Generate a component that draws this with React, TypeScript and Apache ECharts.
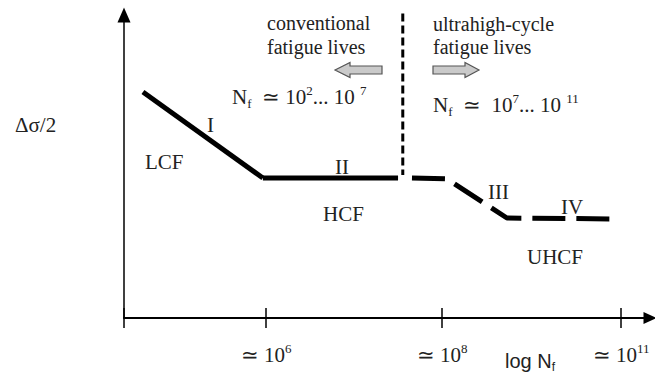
import React, { useEffect, useRef } from 'react';
import * as echarts from 'echarts';

// Schematic S-N curve (abstract units: x 0..100 along log N, y 0..100 along stress amplitude)
const stageI: number[][] = [[3.6, 74.6], [26.4, 46.2]];
const stageII: number[][] = [[26.4, 46.2], [52.1, 46.2]];
const boundaryLine: number[][] = [[53.0, 100.5], [53.0, 47.2]];
const stageIIIandIV: number[][] = [[54.75, 46.2], [61.4, 45.9], [72.8, 33.0], [92.8, 32.7]];

const tickPositions: number[] = [0, 27, 60.5, 94.5];
const labelPositions: number[] = [27, 60.5, 94.5];
const labelExponents: string[] = ['6', '8', '11'];

const SERIF = 'Liberation Serif';
const SANS = 'Liberation Sans';
const TXT = '#222';

const richStyles = {
  t: { fontFamily: SERIF, fontSize: 21, lineHeight: 26, fill: TXT, color: TXT, verticalAlign: 'middle' },
  sup: { fontFamily: SERIF, fontSize: 13, lineHeight: 13, fill: TXT, color: TXT, verticalAlign: 'top' },
  sub: { fontFamily: SERIF, fontSize: 13, lineHeight: 13, fill: TXT, color: TXT, verticalAlign: 'bottom' },
};

function label(text: string, x: number, y: number, size = 21) {
  return {
    type: 'text',
    x,
    y,
    style: { text, fontFamily: SERIF, fontSize: size, fill: TXT, verticalAlign: 'middle' },
  };
}

function richLabel(text: string, x: number, y: number) {
  return {
    type: 'text',
    x,
    y,
    style: { text, fontFamily: SERIF, rich: richStyles, verticalAlign: 'middle', fill: TXT },
  };
}

export default function App() {
  const ref = useRef<HTMLDivElement>(null);
  useEffect(() => {
    document.body.style.margin = '0';
    if (!ref.current) return;
    const chart = echarts.init(ref.current, undefined, { renderer: 'svg' });
    const lineSeries = (data: number[][], width: number, type: any) => ({
      type: 'line',
      data,
      symbol: 'none',
      clip: false,
      silent: true,
      xAxisIndex: 0,
      yAxisIndex: 0,
      lineStyle: { color: '#000', width, type },
    });
    chart.setOption({
      animation: false,
      backgroundColor: '#fff',
      grid: { left: 124, right: 5, top: 15, bottom: 67 },
      xAxis: [
        {
          type: 'value',
          min: 0,
          max: 100,
          position: 'bottom',
          splitLine: { show: false },
          axisLine: {
            show: true,
            onZero: false,
            symbol: ['none', 'triangle'],
            symbolSize: [12, 13],
            lineStyle: { color: '#000', width: 2 },
          },
          axisTick: { show: true, customValues: tickPositions, length: 10, lineStyle: { color: '#000', width: 1.5 } },
          axisLabel: {
            show: true,
            customValues: labelPositions,
            margin: 24,
            fontFamily: SERIF,
            formatter: (v: number) => {
              const i = labelPositions.indexOf(v);
              return '{t|≃ 10}{sup|' + (i >= 0 ? labelExponents[i] : '') + '}';
            },
            rich: richStyles,
          },
        },
        {
          type: 'value',
          min: 0,
          max: 100,
          position: 'bottom',
          offset: 0,
          splitLine: { show: false },
          axisLine: { show: false },
          axisTick: { show: true, inside: true, customValues: tickPositions, length: 10, lineStyle: { color: '#000', width: 1.5 } },
          axisLabel: { show: false },
        },
      ],
      yAxis: {
        type: 'value',
        min: 0,
        max: 100,
        splitLine: { show: false },
        axisTick: { show: false },
        axisLabel: { show: false },
        axisLine: {
          show: true,
          onZero: false,
          symbol: ['none', 'triangle'],
          symbolSize: [13, 15],
          lineStyle: { color: '#000', width: 1.5 },
        },
      },
      series: [
        lineSeries(stageI, 5, 'solid'),
        lineSeries(stageII, 5, 'solid'),
        lineSeries(boundaryLine, 3, [8, 4]),
        lineSeries(stageIIIandIV, 5, [33, 11]),
      ],
      graphic: [
        label('Δσ/2', 15, 125),
        label('LCF', 145, 162),
        label('I', 207, 125),
        label('II', 335, 167),
        label('HCF', 323, 214),
        label('III', 488, 192),
        label('IV', 561, 207),
        label('UHCF', 527, 257),
        label('conventional', 267, 23, 20),
        label('fatigue lives', 267, 47, 20),
        label('ultrahigh-cycle', 433, 24, 20),
        label('fatigue lives', 433, 47, 20),
        richLabel('{t|N}{sub|f}{t|  ≃ 10}{sup|2}{t|... 10 }{sup|7}', 232, 97),
        richLabel('{t|N}{sub|f}{t|  ≃  10}{sup|7}{t|... 10 }{sup|11}', 433, 105),
        {
          type: 'polygon',
          shape: { points: [[335, 70], [350, 62.5], [350, 66], [382, 66], [382, 74], [350, 74], [350, 77.5]] },
          style: { fill: '#cacaca', stroke: '#555', lineWidth: 1.2 },
        },
        {
          type: 'polygon',
          shape: { points: [[433, 66], [465, 66], [465, 62.5], [479, 70], [465, 77.5], [465, 74], [433, 74]] },
          style: { fill: '#cacaca', stroke: '#555', lineWidth: 1.2 },
        },
        {
          type: 'text',
          x: 505,
          y: 361,
          style: { text: '{a|log N}{b|f}', fontFamily: SANS, verticalAlign: 'middle', rich: {
            a: { fontFamily: SANS, fontSize: 20, lineHeight: 24, fill: TXT, verticalAlign: 'middle' },
            b: { fontFamily: SANS, fontSize: 12, lineHeight: 12, fill: TXT, verticalAlign: 'bottom' },
          } },
        },
      ],
    });
    return () => chart.dispose();
  }, []);
  return <div ref={ref} style={{ width: 655, height: 385 }} />;
}
